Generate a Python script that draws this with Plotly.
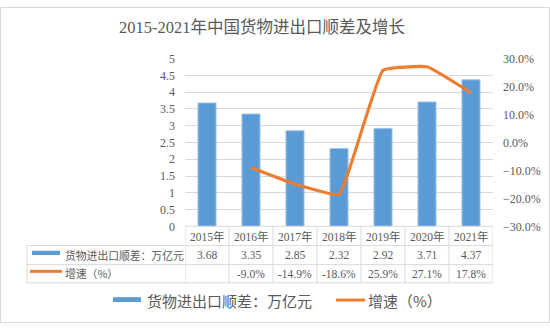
import plotly.graph_objects as go

years = ["2015年", "2016年", "2017年", "2018年", "2019年", "2020年", "2021年"]
surplus = [3.68, 3.35, 2.85, 2.32, 2.92, 3.71, 4.37]
growth_years = ["2016年", "2017年", "2018年", "2019年", "2020年", "2021年"]
growth = [-9.0, -14.9, -18.6, 25.9, 27.1, 17.8]
bar_name = "货物进出口顺差：万亿元"
line_name = "增速（%）"
title = "2015-2021年中国货物进出口顺差及增长"

W, H = 550, 331
def px(x): return x / W
def py(y): return 1 - y / H

BLUE = "#5B9BD5"
ORANGE = "#ED7D31"
GRID = "#D9D9D9"
TXT = "#595959"
SERIF = "Liberation Serif, Noto Sans CJK SC, serif"
SANS = "Noto Sans CJK SC, sans-serif"

fig = go.Figure()
fig.add_trace(go.Bar(x=years, y=surplus, name=bar_name, width=0.41,
                     marker=dict(color=BLUE, line=dict(color="#9DC3E6", width=1)),
                     showlegend=False))
fig.add_trace(go.Scatter(x=growth_years, y=growth, name=line_name, yaxis="y2", mode="lines",
                         line=dict(color=ORANGE, width=3.2, shape="spline", smoothing=0.3),
                         showlegend=False))

x0, x1 = 185, 493
ytop, ybot = 54, 229
fig.update_layout(
    width=W, height=H, autosize=False,
    margin=dict(l=0, r=0, t=0, b=0),
    paper_bgcolor="white", plot_bgcolor="white",
    showlegend=False,
    xaxis=dict(domain=[px(x0), px(x1)], range=[-0.5, 6.5], showticklabels=False,
               showgrid=False, zeroline=False, type="category"),
    yaxis=dict(domain=[py(ybot), py(ytop)], range=[0, 5], dtick=0.5, showgrid=True,
               gridcolor=GRID, gridwidth=1, zeroline=False, showline=False,
               tickfont=dict(family=SERIF, size=12, color=TXT), ticklabelstandoff=9,
               tickformat="~g"),
    yaxis2=dict(overlaying="y", side="right", range=[-30, 30], dtick=10, showgrid=False,
                zeroline=False, ticksuffix="%", tickformat=".1f",
                tickfont=dict(family=SERIF, size=12, color=TXT), ticklabelstandoff=9),
)

shapes = []
ann = []
# outer border
shapes.append(dict(type="rect", xref="paper", yref="paper", x0=px(0.5), x1=px(549.5),
                   y0=py(329.5), y1=py(0.5), line=dict(color=GRID, width=1)))
# table lines
r0, r1, r2, r3 = 229, 249, 269, 288
tl = 27
for yy, xs in [(r0, x0), (r1, tl), (r2, tl), (r3, tl)]:
    shapes.append(dict(type="line", xref="paper", yref="paper", x0=px(xs), x1=px(x1),
                       y0=py(yy), y1=py(yy), line=dict(color=GRID, width=1)))
for i in range(len(years) + 1):
    shapes.append(dict(type="line", xref="x", yref="paper", x0=i - 0.5, x1=i - 0.5,
                       y0=py(r0), y1=py(r3), line=dict(color=GRID, width=1)))
shapes.append(dict(type="line", xref="paper", yref="paper", x0=px(tl), x1=px(tl),
                   y0=py(r1), y1=py(r3), line=dict(color=GRID, width=1)))
# table legend keys
shapes.append(dict(type="rect", xref="paper", yref="paper", x0=px(32), x1=px(60),
                   y0=py(259), y1=py(254.5), fillcolor=BLUE, line=dict(width=0)))
shapes.append(dict(type="line", xref="paper", yref="paper", x0=px(30), x1=px(62),
                   y0=py(276), y1=py(276), line=dict(color=ORANGE, width=3)))
ann.append(dict(xref="paper", yref="paper", x=px(63), y=py(259), text=bar_name,
                xanchor="left", yanchor="middle", showarrow=False,
                font=dict(family=SANS, size=10.8, color=TXT)))
ann.append(dict(xref="paper", yref="paper", x=px(63), y=py(278), text=line_name,
                xanchor="left", yanchor="middle", showarrow=False,
                font=dict(family=SANS, size=10.8, color=TXT)))
for i, yr in enumerate(years):
    ann.append(dict(xref="x", yref="paper", x=yr, y=py(239.5), text=yr, showarrow=False,
                    xanchor="center", yanchor="middle", font=dict(family=SERIF, size=11.5, color=TXT)))
    ann.append(dict(xref="x", yref="paper", x=yr, y=py(259), text=f"{surplus[i]:.2f}", showarrow=False,
                    xanchor="center", yanchor="middle", font=dict(family=SERIF, size=11.5, color=TXT)))
for yr, g in zip(growth_years, growth):
    ann.append(dict(xref="x", yref="paper", x=yr, y=py(278.5), text=f"{g:.1f}%", showarrow=False,
                    xanchor="center", yanchor="middle", font=dict(family=SERIF, size=11.5, color=TXT)))
# title
ann.append(dict(xref="paper", yref="paper", x=px(262), y=py(21), text=title, showarrow=False,
                xanchor="center", yanchor="middle", font=dict(family=SERIF, size=16.5, color=TXT)))
# bottom legend
shapes.append(dict(type="rect", xref="paper", yref="paper", x0=px(113), x1=px(141),
                   y0=py(308), y1=py(303), fillcolor=BLUE, line=dict(width=0)))
ann.append(dict(xref="paper", yref="paper", x=px(145), y=py(306), text=bar_name,
                xanchor="left", yanchor="middle", showarrow=False,
                font=dict(family=SANS, size=15, color=TXT)))
shapes.append(dict(type="line", xref="paper", yref="paper", x0=px(336), x1=px(365),
                   y0=py(306), y1=py(306), line=dict(color=ORANGE, width=3)))
ann.append(dict(xref="paper", yref="paper", x=px(366), y=py(306), text=line_name,
                xanchor="left", yanchor="middle", showarrow=False,
                font=dict(family=SANS, size=15, color=TXT)))

fig.update_layout(shapes=shapes, annotations=ann)
fig.write_html("out.html")
